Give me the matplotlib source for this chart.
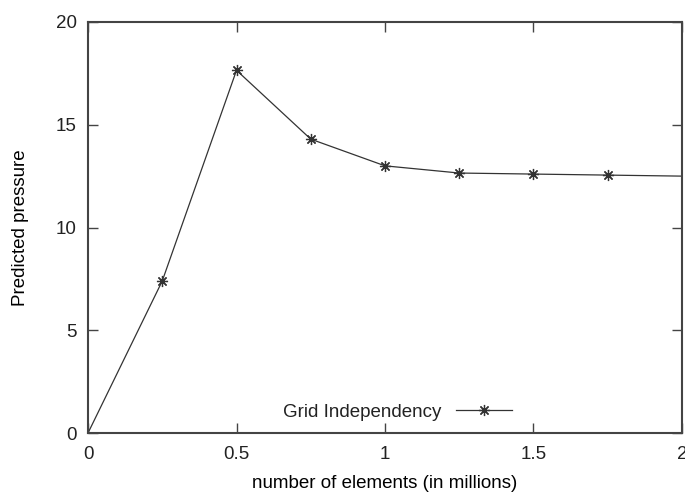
import matplotlib.pyplot as plt

# grid independency study values
elements = [0.0, 0.25, 0.5, 0.75, 1.0, 1.25, 1.5, 1.75, 2.0]
pressure = [0.0, 7.4, 17.65, 14.3, 13.0, 12.65, 12.6, 12.55, 12.5]
x_ticks = [0, 0.5, 1, 1.5, 2]
y_ticks = [0, 5, 10, 15, 20]

plt.rcParams["font.family"] = ["Liberation Sans", "DejaVu Sans"]
plt.rcParams["text.color"] = "#222222"

fig = plt.figure(figsize=(6.85, 4.92), dpi=100)
ax = fig.add_axes([0.1285, 0.1199, 0.8671, 0.8354])

ax.plot(elements, pressure, color="#333333", linewidth=0.9,
        marker=(8, 2, 0), markersize=8, markeredgewidth=0.9,
        markevery=list(range(1, len(elements) - 1)),
        label="Grid Independency", clip_on=False)

ax.set_xlim(0, 2)
ax.set_ylim(0, 20)
ax.set_xticks(x_ticks)
ax.set_xticklabels(["0", "0.5", "1", "1.5", "2"])
ax.set_yticks(y_ticks)

ax.tick_params(direction="in", top=True, right=True, length=7, width=1,
               color="#444444", labelcolor="#222222", labelsize=13.5)
ax.tick_params(axis="x", pad=9)
ax.tick_params(axis="y", pad=8)
for s in ax.spines.values():
    s.set_linewidth(1.5)
    s.set_color("#444444")

ax.set_xlabel("number of elements (in millions)", fontsize=13.5)
ax.set_ylabel("Predicted pressure", fontsize=13.5)
ax.xaxis.set_label_coords(0.5, -0.102)
ax.yaxis.set_label_coords(-0.1, 0.5)

ax.legend(loc="center", bbox_to_anchor=(0.521, 0.05), frameon=False,
          markerfirst=False, handlelength=3.0, handletextpad=0.8,
          fontsize=13.5)

fig.savefig("out.png", dpi=100)
